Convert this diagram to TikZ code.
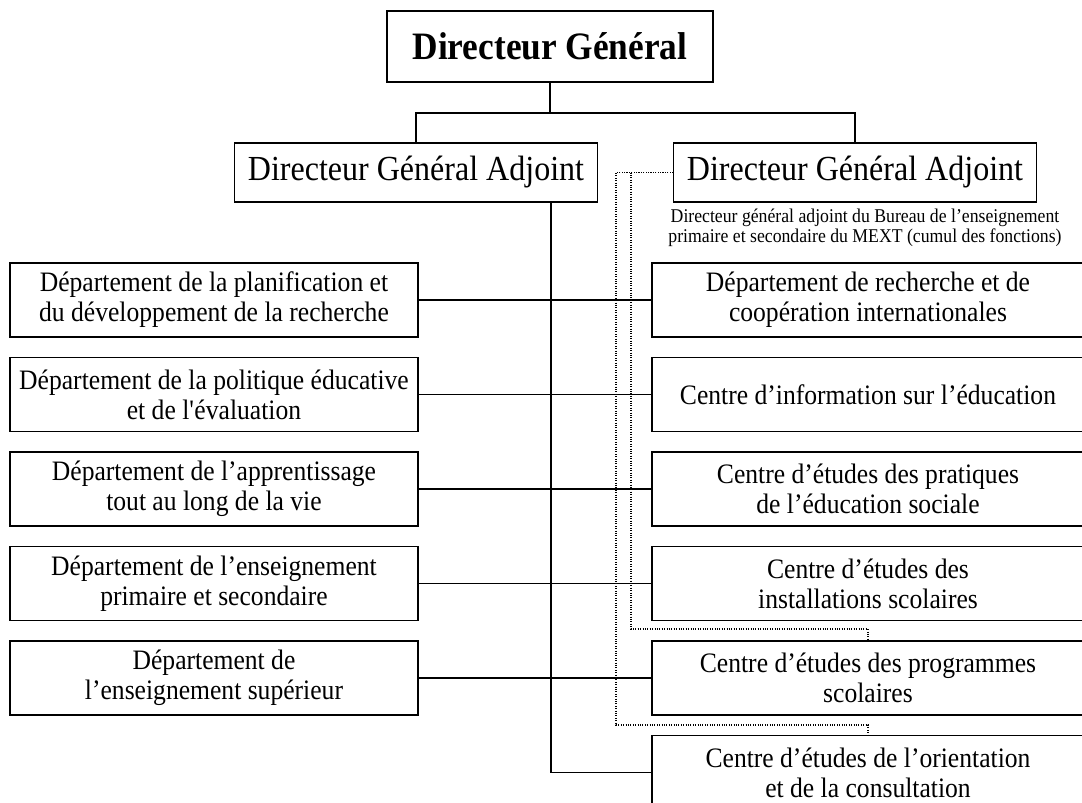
\documentclass[tikz,border=0pt]{standalone}
\usepackage{fontspec}
\setmainfont[FakeStretch=0.91]{Liberation Serif}
\usepackage{tikz}
\newcommand{\colL}{214}
\newcommand{\colR}{868}
\newcommand{\trunk}{551}
\newcommand{\deptL}[3]{
	\node[dept] (#1) at (\colL,#2) {#3};
	}
\newcommand{\deptR}[3]{
	\node[dept, minimum width=324pt] (#1) at (\colR,#2) {#3};
	}

\begin{document}
\begin{tikzpicture}[
      x=0.75pt, y=-0.75pt, %one unit is one pixel
      box/.style={draw, line width=0.8pt, inner sep=0pt, align=center},
      chief/.style={box, minimum width=244.5pt, minimum height=53.25pt, font=\fontsize{29.1}{34}\selectfont\bfseries},
      deputy/.style={box, minimum width=272pt, minimum height=44.25pt, font=\fontsize{26.4}{30}\selectfont},
      dept/.style={box, minimum width=306pt, minimum height=55.5pt, font=\fontsize{21.1}{22.5}\selectfont},
      note/.style={align=center, inner sep=0pt, font=\fontsize{14.6}{15}\selectfont},
      link/.style={line width=0.8pt},
      dotlink/.style={line width=0.8pt, densely dotted}
    ]
    \useasboundingbox (0,0) rectangle (1082,803);
    % Direction
    \node[chief] (dg) at (550,46.5) {Directeur Général};
    \node[deputy] (dgaL) at (416,172.5) {Directeur Général Adjoint};
    \node[deputy] (dgaR) at (855,172.5) {Directeur Général Adjoint};
    \node[note] (dgaRnote) at (865,228) {Directeur général adjoint du Bureau de l’enseignement\\primaire et secondaire du MEXT (cumul des fonctions)};
    \coordinate (split) at (550,113);
    \draw[link] (dg.south) -- (split);
    \draw[link] (dgaL.north) |- (split) -| (dgaR.north);
    % Departments, left column
    \deptL{dL1}{300}{Département de la planification et\\du développement de la recherche};
    \deptL{dL2}{394.5}{Département de la politique éducative\\et de l\textquotesingle évaluation};
    \deptL{dL3}{489}{Département de l’apprentissage\\tout au long de la vie};
    \deptL{dL4}{583.5}{Département de l’enseignement\\primaire et secondaire};
    \deptL{dL5}{678}{Département de\\l’enseignement supérieur};
    % Departments and centres, right column
    \deptR{dR1}{300}{Département de recherche et de\\coopération internationales};
    \deptR{dR2}{394.5}{Centre d’information sur l’éducation};
    \deptR{dR3}{489}{Centre d’études des pratiques\\de l’éducation sociale};
    \deptR{dR4}{583.5}{Centre d’études des\\installations scolaires};
    \deptR{dR5}{678}{Centre d’études des programmes\\scolaires};
    \deptR{dR6}{772.5}{Centre d’études de l’orientation\\et de la consultation};
    % Connectors
    \coordinate (spine) at (\trunk,0);
    \draw[link] (spine |- dgaL.south) -- (spine |- dR6.west) -- (dR6.west);
    \draw[link] (dL1.east) -- (dR1.west);
    \draw[link] (dL2.east) -- (dR2.west);
    \draw[link] (dL3.east) -- (dR3.west);
    \draw[link] (dL4.east) -- (dR4.west);
    \draw[link] (dL5.east) -- (dR5.west);
    % Dotted lines (cumul des fonctions)
    \coordinate (outerturn) at (616,725);
    \coordinate (innerturn) at (631,629);
    \draw[dotlink] (dgaR.west) -| (outerturn) -| (dR6.north);
    \draw[dotlink] (innerturn |- dgaR.west) -- (innerturn) -| (dR5.north);
    \end{tikzpicture}
\end{document}
